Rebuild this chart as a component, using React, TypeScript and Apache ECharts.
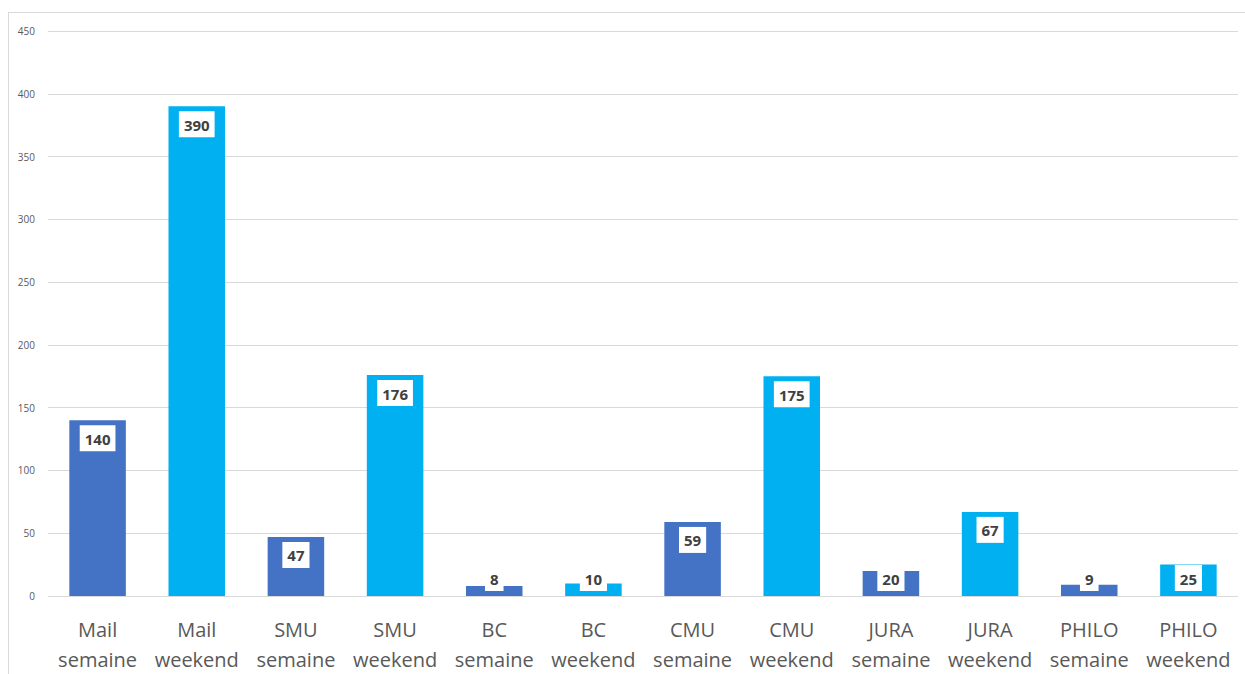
import React, { useEffect, useRef } from "react";
import * as echarts from "echarts";

const categories = [
  "Mail\nsemaine", "Mail\nweekend", "SMU\nsemaine", "SMU\nweekend",
  "BC\nsemaine", "BC\nweekend", "CMU\nsemaine", "CMU\nweekend",
  "JURA\nsemaine", "JURA\nweekend", "PHILO\nsemaine", "PHILO\nweekend",
];
const values = [140, 390, 47, 176, 8, 10, 59, 175, 20, 67, 9, 25];
const colors = ["#4472C4", "#00B0F0"];

export default function App() {
  const ref = useRef<HTMLDivElement>(null);
  useEffect(() => {
    if (!ref.current) return;
    const chart = echarts.init(ref.current, undefined, { renderer: "svg" });
    const pxPerUnit = (597 - 31) / 450;
    chart.setOption({
      animation: false,
      grid: { left: 48, right: 7, top: 31, bottom: 77, containLabel: false },
      xAxis: {
        type: "category",
        data: categories,
        axisLine: { show: false },
        axisTick: { show: false },
        axisLabel: {
          color: "#595959",
          fontSize: 20,
          lineHeight: 30,
          fontFamily: "Open Sans",
          margin: 18,
          interval: 0,
        },
      },
      yAxis: {
        type: "value",
        min: 0,
        max: 450,
        interval: 50,
        axisLine: { show: false },
        axisTick: { show: false },
        splitLine: { lineStyle: { color: "#d9d9d9", width: 1 } },
        axisLabel: { color: "#595959", fontSize: 10, margin: 13, fontFamily: "Open Sans" },
      },
      series: [
        {
          type: "bar",
          barWidth: "57%",
          data: values.map((v, i) => {
            const small = v * pxPerUnit < 36;
            return {
              value: v,
              itemStyle: { color: colors[i % 2] },
              label: {
                position: small ? "insideBottom" : "insideTop",
                distance: 5,
              },
            };
          }),
          label: {
            show: true,
            color: "#404040",
            fontWeight: "bold",
            fontSize: 15,
            fontFamily: "Open Sans",
            backgroundColor: "#ffffff",
            padding: [4, 5, 3, 5],
            lineHeight: 19,
          },
        },
      ],
    });
    return () => chart.dispose();
  }, []);
  return (
    <div style={{ position: "fixed", left: 0, top: 0, width: 1245, height: 674, background: "#fff", overflow: "hidden" }}>
      <div
        style={{
          position: "absolute",
          left: 8,
          top: 12,
          width: 1260,
          height: 700,
          border: "1px solid #d9d9d9",
          boxSizing: "border-box",
        }}
      />
      <div ref={ref} style={{ position: "absolute", left: 0, top: 0, width: 1245, height: 674 }} />
    </div>
  );
}
